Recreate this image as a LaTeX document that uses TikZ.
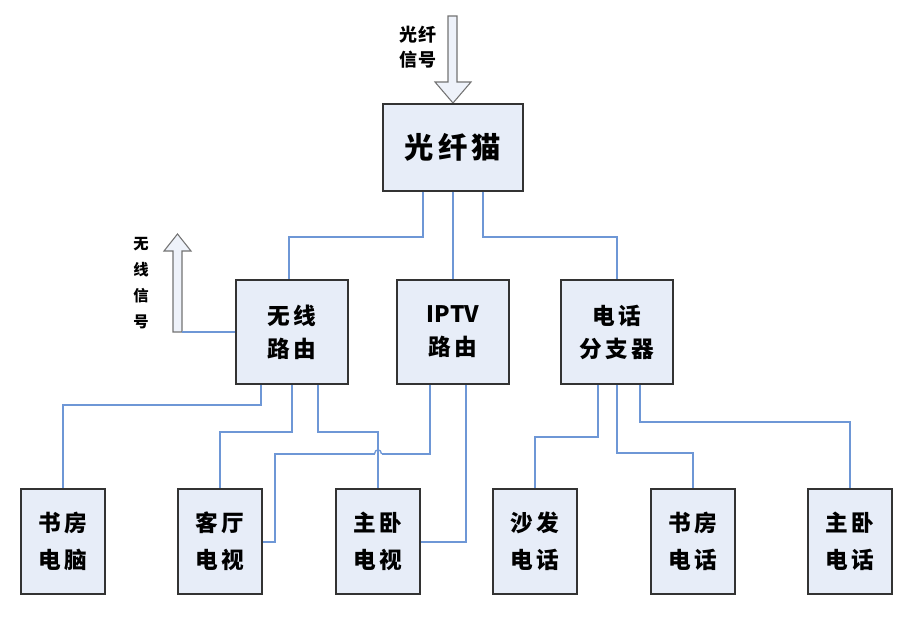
\documentclass[tikz,border=0pt]{standalone}
\usepackage{fontspec}
\newfontfamily\cjk[LetterSpace=14]{Noto Sans CJK SC}
\newfontfamily\cjkplain{Noto Sans CJK SC}
\newfontfamily\cjksmall[LetterSpace=8]{Noto Sans CJK SC}
\definecolor{boxfill}{HTML}{E7EDF8}
\definecolor{linecol}{HTML}{6E97D6}
\definecolor{arrowfill}{HTML}{EEF2FA}
\begin{document}
\begin{tikzpicture}[x=0.75pt,y=-0.75pt,
  box/.style={draw=black!80,line width=1.3pt,fill=boxfill,inner sep=0pt,align=center},
  bigbox/.style={box,minimum width=112*0.75pt,minimum height=104*0.75pt,
    font=\cjk\bfseries\fontsize{17}{24.75}\selectfont},
  smallbox/.style={box,minimum width=84*0.75pt,minimum height=105*0.75pt,
    font=\cjk\bfseries\fontsize{17}{27.75}\selectfont},
  conn/.style={draw=linecol,line width=1pt},
  blockarrow/.style={draw=black!55,line width=0.8pt,fill=arrowfill},
  lbl/.style={inner sep=0pt,align=center,font=\cjksmall\bfseries\fontsize{13.5}{19}\selectfont}]
\useasboundingbox (0,0) rectangle (914,624);

% top fiber arrow
\draw[blockarrow] (448,16) -- (457,16) -- (457,82) -- (471,82) -- (453,103) -- (435,82) -- (448,82) -- cycle;
\node[lbl] (lfiber) at (418,47.5) {光纤\\[0pt]信号};

% boxes
\node[box,minimum width=140*0.75pt,minimum height=87*0.75pt,font=\cjk\bfseries\fontsize{22}{26}\selectfont] (fm) at (453,147.5) {光纤猫};
\node[bigbox] (wr) at (292,332) {无线\\路由};
\node[bigbox] (ip) at (453,332) {{\cjkplain\bfseries IPTV}\\路由};
\node[bigbox] (ph) at (617,332) {电话\\分支器};

\node[smallbox] (c1) at (63,541.5) {书房\\电脑};
\node[smallbox] (c2) at (220,541.5) {客厅\\电视};
\node[smallbox] (c3) at (378,541.5) {主卧\\电视};
\node[smallbox] (c4) at (535,541.5) {沙发\\电话};
\node[smallbox] (c5) at (693,541.5) {书房\\电话};
\node[smallbox] (c6) at (850,541.5) {主卧\\电话};

% wireless arrow
\draw[blockarrow] (173,332) -- (173,251) -- (164,251) -- (177.5,234) -- (191,251) -- (182,251) -- (182,332) -- cycle;
\coordinate (wtail) at (182,332);
\node[inner sep=0pt,align=center,font=\cjkplain\bfseries\fontsize{11.5}{19.5}\selectfont] (lwire) at (141,283) {无\\线\\信\\号};

% connectors
\draw[conn] (fm.south -| 423,0) -- (423,237) -| (wr.north -| 289,0);
\draw[conn] (fm.south) -- (ip.north);
\draw[conn] (fm.south -| 483,0) -- (483,237) -| (ph.north);
\draw[conn] (wr.west |- wtail) -- (wtail);

\draw[conn] (wr.south -| 261,0) -- (261,405) -| (c1.north);
\draw[conn] (wr.south -| 292,0) -- (292,432) -| (c2.north);
\draw[conn] (wr.south -| 318,0) -- (318,432) -| (c3.north);

\coordinate (hopR) at (381.5,454);
\coordinate (hopL) at (374.5,454);
\draw[conn] (ip.south -| 430,0) -- (430,454) -- (hopR);
\draw[conn] (hopR) .. controls (381.5,448.5) and (374.5,448.5) .. (hopL);
\draw[conn] (hopL) -- (275,454) -- (275,542) -- (c2.east |- 0,542);
\draw[conn] (ip.south -| 466,0) -- (466,542) -- (c3.east |- 0,542);

\draw[conn] (ph.south -| 598,0) -- (598,437) -| (c4.north);
\draw[conn] (ph.south -| 617,0) -- (617,453) -| (c5.north);
\draw[conn] (ph.south -| 640,0) -- (640,422) -| (c6.north);
\end{tikzpicture}
\end{document}
